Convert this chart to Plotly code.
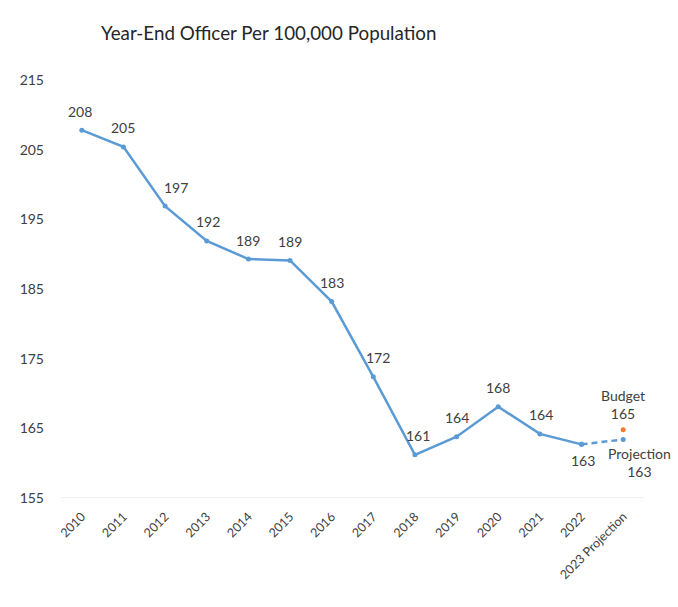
import plotly.graph_objects as go

categories = ['2010', '2011', '2012', '2013', '2014', '2015', '2016', '2017',
              '2018', '2019', '2020', '2021', '2022', '2023 Projection']
values = [207.8, 205.4, 196.9, 191.9, 189.3, 189.1, 183.2, 172.4,
          161.2, 163.8, 168.1, 164.2, 162.7, 163.4]
budget_value = 164.8
y_ticks = [155, 165, 175, 185, 195, 205, 215]

line_color = '#5B9BD5'
text_color = '#404040'
font_family = 'Lato, Open Sans, sans-serif'

fig = go.Figure()

# solid historical line
fig.add_trace(go.Scatter(
    x=categories[:13], y=values[:13], mode='lines+markers',
    line=dict(color=line_color, width=2.5),
    marker=dict(color=line_color, size=5),
    cliponaxis=False, showlegend=False,
))

# dashed projection segment
fig.add_trace(go.Scatter(
    x=categories[12:], y=values[12:], mode='lines+markers',
    line=dict(color=line_color, width=2.5, dash='6px,4px'),
    marker=dict(color=line_color, size=5),
    cliponaxis=False, showlegend=False,
))

# budget point
fig.add_trace(go.Scatter(
    x=[categories[-1]], y=[budget_value], mode='markers',
    marker=dict(color='#ED7D31', size=5),
    cliponaxis=False, showlegend=False,
))

label_font = dict(color=text_color, size=14, family=font_family)
x_shifts = [-2, 0, 11, 1, 0, 0, 0, 5, 3, 0, 0, 1, 1]
for i in range(13):
    below = (i == 12)
    fig.add_annotation(
        x=i, y=values[i], xref='x', yref='y', text=f'{values[i]:.0f}',
        showarrow=False, yanchor='middle',
        xshift=x_shifts[i], yshift=(-16 if below else 19),
        font=label_font,
    )

last = len(categories) - 1
fig.add_annotation(
    x=last, y=budget_value, text=f'Budget<br>{budget_value:.0f}',
    showarrow=False, yanchor='bottom', yshift=6,
    font=label_font,
)
fig.add_annotation(
    x=last, y=values[-1], text=f'Projection<br>{values[-1]:.0f}',
    showarrow=False, yanchor='top', xshift=16, yshift=-4,
    font=label_font,
)

fig.update_layout(
    width=678, height=607,
    margin=dict(l=61, r=34, t=80, b=109),
    paper_bgcolor='white', plot_bgcolor='white',
    font=dict(family=font_family, color=text_color, size=12),
    title=dict(text='Year-End Officer Per 100,000 Population',
               x=101 / 678, xanchor='left', y=1 - 33 / 607, yanchor='middle',
               font=dict(size=18.8, color='#262626', family=font_family)),
    xaxis=dict(type='category', categoryorder='array', categoryarray=categories,
               range=[-0.5, 13.5], tickangle=-45, showgrid=False,
               showline=False, zeroline=False, ticklabelstandoff=8,
               tickfont=dict(size=12.5, color=text_color)),
    yaxis=dict(range=[155, 215], tickvals=y_ticks, showgrid=False,
               zeroline=False, showline=False,
               ticklabelstandoff=16,
               tickfont=dict(size=14, color=text_color)),
)
fig.add_hline(y=155, line=dict(color='#E0E0E0', width=1))

fig.write_html('out.html')
